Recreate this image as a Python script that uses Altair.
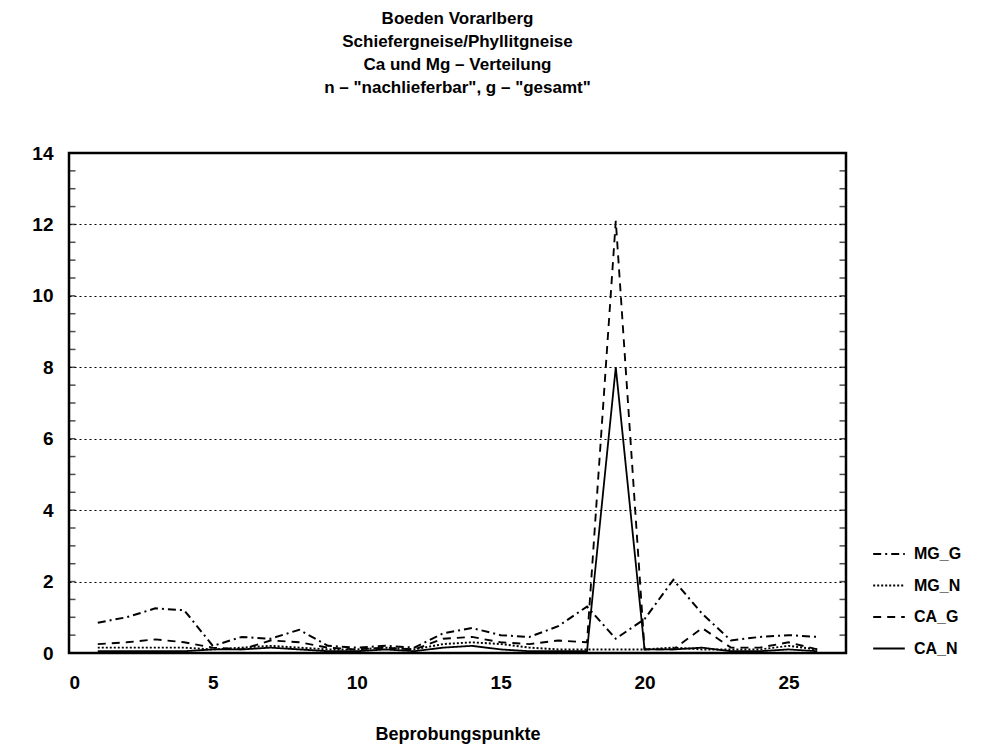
import altair as alt
import numpy as np
import pandas as pd

# --- data ---
punkte = list(range(1, 27))
MG_G = [0.85, 1.0, 1.25, 1.2, 0.2, 0.45, 0.4, 0.65, 0.2, 0.15, 0.2, 0.15, 0.55,
        0.7, 0.5, 0.45, 0.75, 1.3, 0.4, 0.95, 2.05, 1.1, 0.35, 0.45, 0.5, 0.45]
MG_N = [0.15, 0.15, 0.15, 0.15, 0.1, 0.15, 0.2, 0.15, 0.1, 0.1, 0.15, 0.1, 0.25,
        0.3, 0.25, 0.15, 0.1, 0.1, 0.1, 0.1, 0.15, 0.1, 0.1, 0.1, 0.2, 0.1]
CA_G = [0.25, 0.3, 0.38, 0.3, 0.15, 0.1, 0.35, 0.3, 0.15, 0.1, 0.15, 0.1, 0.4,
        0.45, 0.3, 0.25, 0.35, 0.3, 12.1, 0.1, 0.1, 0.7, 0.15, 0.15, 0.3, 0.1]
CA_N = [0.05, 0.05, 0.05, 0.05, 0.1, 0.1, 0.15, 0.1, 0.05, 0.05, 0.1, 0.05, 0.15,
        0.2, 0.1, 0.05, 0.05, 0.05, 8.0, 0.1, 0.1, 0.15, 0.05, 0.05, 0.1, 0.05]

series_names = ["MG_G", "MG_N", "CA_G", "CA_N"]
series_vals = [MG_G, MG_N, CA_G, CA_N]

x_ticks = [0, 5, 10, 15, 20, 25]
y_ticks = [0, 2, 4, 6, 8, 10, 12, 14]
minor_y = [v / 2 for v in range(0, 29)]

title_lines = ["Boeden Vorarlberg",
               "Schiefergneise/Phyllitgneise",
               "Ca und Mg \u2013 Verteilung",
               'n \u2013 "nachlieferbar", g \u2013 "gesamt"']

rows = []
for name, vals in zip(series_names, series_vals):
    for p, v in zip(punkte, vals):
        rows.append({"Punkt": p, "Wert": v, "Reihe": name})
df = pd.DataFrame(rows)
df_minor = pd.DataFrame({"Wert": minor_y})

W, H = 777, 500
FONT = "Liberation Sans"

y_enc = alt.Y("Wert:Q",
              scale=alt.Scale(domain=[0, 14], nice=False),
              axis=alt.Axis(values=y_ticks, title=None, grid=True, gridDash=[2, 3],
                            gridColor="black", gridWidth=1.2, gridOpacity=1,
                            ticks=False, domain=False, labelPadding=16, format="d"))

lines = alt.Chart(df).mark_line(color="black", clip=True).encode(
    x=alt.X("Punkt:Q",
            scale=alt.Scale(domain=[0, 27], nice=False, zero=False),
            axis=alt.Axis(values=x_ticks, title="Beprobungspunkte", grid=False,
                          ticks=False, domain=False, labelPadding=20,
                          titlePadding=33, format="d")),
    y=y_enc,
    strokeDash=alt.StrokeDash("Reihe:N",
                              scale=alt.Scale(domain=series_names,
                                              range=[[8, 4, 2, 4], [2, 2], [8, 6], [1, 0]]),
                              legend=alt.Legend(title=None)),
    strokeWidth=alt.StrokeWidth("Reihe:N",
                                scale=alt.Scale(domain=series_names,
                                                range=[2, 1.8, 2.8, 3.2]),
                                legend=alt.Legend(title=None)),
    detail="Reihe:N",
)

ticks_left = alt.Chart(df_minor).mark_tick(orient="horizontal", color="black",
                                           size=7, thickness=1.5).encode(
    y=y_enc, x=alt.value(3))
ticks_right = alt.Chart(df_minor).mark_tick(orient="horizontal", color="black",
                                            size=7, thickness=1.5).encode(
    y=y_enc, x=alt.value(W - 3))

chart = alt.layer(lines, ticks_left, ticks_right).properties(
    width=W, height=H,
    autosize=alt.AutoSizeParams(type="none"),
    padding={"left": 61, "top": 145, "right": 130, "bottom": 95},
    title=alt.Title(title_lines, fontSize=17, font=FONT, fontWeight="bold",
                    lineHeight=23, anchor="middle", frame="group",
                    baseline="bottom", offset=30, color="black"),
).configure_view(stroke="black", strokeWidth=2.5).configure_axis(
    labelFont=FONT, labelFontWeight="bold", labelFontSize=19, labelColor="black",
    titleFont=FONT, titleFontWeight="bold", titleFontSize=18, titleColor="black",
).configure_legend(
    orient="none", legendX=803, legendY=384, padding=0,
    labelFont=FONT, labelFontWeight="bold", labelFontSize=16, labelColor="black",
    symbolType="stroke", symbolSize=1000, symbolStrokeColor="black",
    rowPadding=6.5, labelOffset=8,
)

chart.save("out.html", embed_options={"renderer": "svg", "actions": False})
